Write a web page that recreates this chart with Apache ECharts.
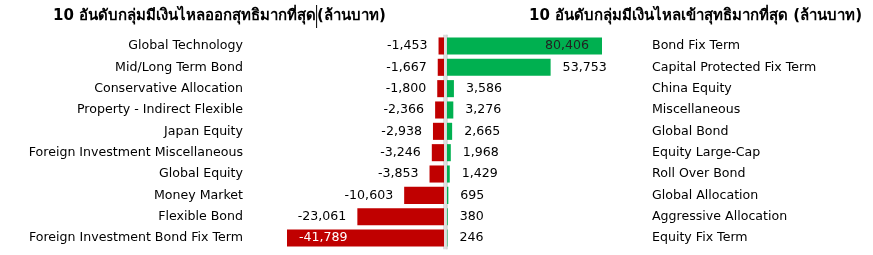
<!DOCTYPE html>
<html><head><meta charset="utf-8">
<script src="https://cdn.jsdelivr.net/npm/echarts@6/dist/echarts.min.js"></script>
<style>html,body{margin:0;padding:0;background:#fff}#c{width:873px;height:255px}</style>
</head><body><div id="c"></div>
<script>
const outCategories = ['Global Technology','Mid/Long Term Bond','Conservative Allocation','Property - Indirect Flexible','Japan Equity','Foreign Investment Miscellaneous','Global Equity','Money Market','Flexible Bond','Foreign Investment Bond Fix Term'];
const outValues = [-1453,-1667,-1800,-2366,-2938,-3246,-3853,-10603,-23061,-41789];
const inCategories = ['Bond Fix Term','Capital Protected Fix Term','China Equity','Miscellaneous','Global Bond','Equity Large-Cap','Roll Over Bond','Global Allocation','Aggressive Allocation','Equity Fix Term'];
const inValues = [80406,53753,3586,3276,2665,1968,1429,695,380,246];
const titleOut = '10 อันดับกลุ่มมีเงินไหลออกสุทธิมากที่สุด';
const titleIn = '10 อันดับกลุ่มมีเงินไหลเข้าสุทธิมากที่สุด';
const unit = '(ล้านบาท)';

const FONT = 'DejaVu Sans';
const FS = 12.6;
const TFS = 15;
const fmt = v => v.toLocaleString('en-US');
const outMin = Math.min(...outValues);
const inMax = Math.max(...inValues);

const outData = outValues.map(v => v === outMin
  ? {value: v, label: {position: 'insideLeft', color: '#fff', distance: 12}}
  : v);
const inData = inValues.map(v => v === inMax
  ? {value: v, label: {position: 'insideRight', color: '#222', distance: 13}}
  : v);

const titleRich = {
  b: {fontFamily: FONT, fontWeight: 'bold', fontSize: TFS, color: '#000', lineHeight: 23, height: 23, verticalAlign: 'middle'},
  n: {fontFamily: FONT, fontSize: TFS, color: '#000', lineHeight: 23, height: 23, verticalAlign: 'middle'},
  cur: {width: 1, height: 23, lineHeight: 23, backgroundColor: '#000', fontSize: 1, verticalAlign: 'middle'}
};

const chart = echarts.init(document.getElementById('c'), null, {renderer: 'canvas'});
const axisLineStyle = {color: '#d4d4d4', width: 1.5};
chart.setOption({
  animation: false,
  textStyle: {fontFamily: FONT},
  title: [
    {text: '{b|' + titleOut + '}{cur| }{n|' + unit + '}', left: 53, top: 0, padding: [5, 0, 0, 0], textStyle: {rich: titleRich}},
    {text: '{b|' + titleIn + '}{n| ' + unit + '}', right: 11, top: 0, padding: [5, 0, 0, 0], textStyle: {rich: titleRich}}
  ],
  grid: [
    {left: 287, right: 873 - 444, top: 35.3, bottom: 6.3},
    {left: 447, right: 873 - 602, top: 35.3, bottom: 6.3}
  ],
  xAxis: [
    {gridIndex: 0, type: 'value', min: outMin, max: 0, show: false},
    {gridIndex: 1, type: 'value', min: 0, max: inMax, show: false}
  ],
  yAxis: [
    {gridIndex: 0, type: 'category', data: outCategories, inverse: true, position: 'left', offset: 31,
     axisLine: {show: true, lineStyle: axisLineStyle}, axisTick: {show: false},
     axisLabel: {margin: 13, fontSize: FS, color: '#000', fontFamily: FONT}},
    {gridIndex: 1, type: 'category', data: inCategories, inverse: true, position: 'right', offset: 37,
     axisLine: {show: true, lineStyle: axisLineStyle}, axisTick: {show: false},
     axisLabel: {margin: 13, fontSize: FS, color: '#000', fontFamily: FONT}},
    {gridIndex: 1, type: 'category', data: inCategories, inverse: true, position: 'left', offset: 1.5,
     axisLine: {show: true, lineStyle: axisLineStyle}, axisTick: {show: false}, axisLabel: {show: false}}
  ],
  series: [
    {type: 'bar', xAxisIndex: 0, yAxisIndex: 0, data: outData, barCategoryGap: '20%',
     itemStyle: {color: '#c00000'},
     label: {show: true, position: 'left', distance: 11, formatter: p => fmt(p.value), fontSize: FS, color: '#000', fontFamily: FONT}},
    {type: 'bar', xAxisIndex: 1, yAxisIndex: 1, data: inData, barCategoryGap: '20%',
     itemStyle: {color: '#00b050'},
     label: {show: true, position: 'right', distance: 12, formatter: p => fmt(p.value), fontSize: FS, color: '#000', fontFamily: FONT}}
  ]
});
</script></body></html>
